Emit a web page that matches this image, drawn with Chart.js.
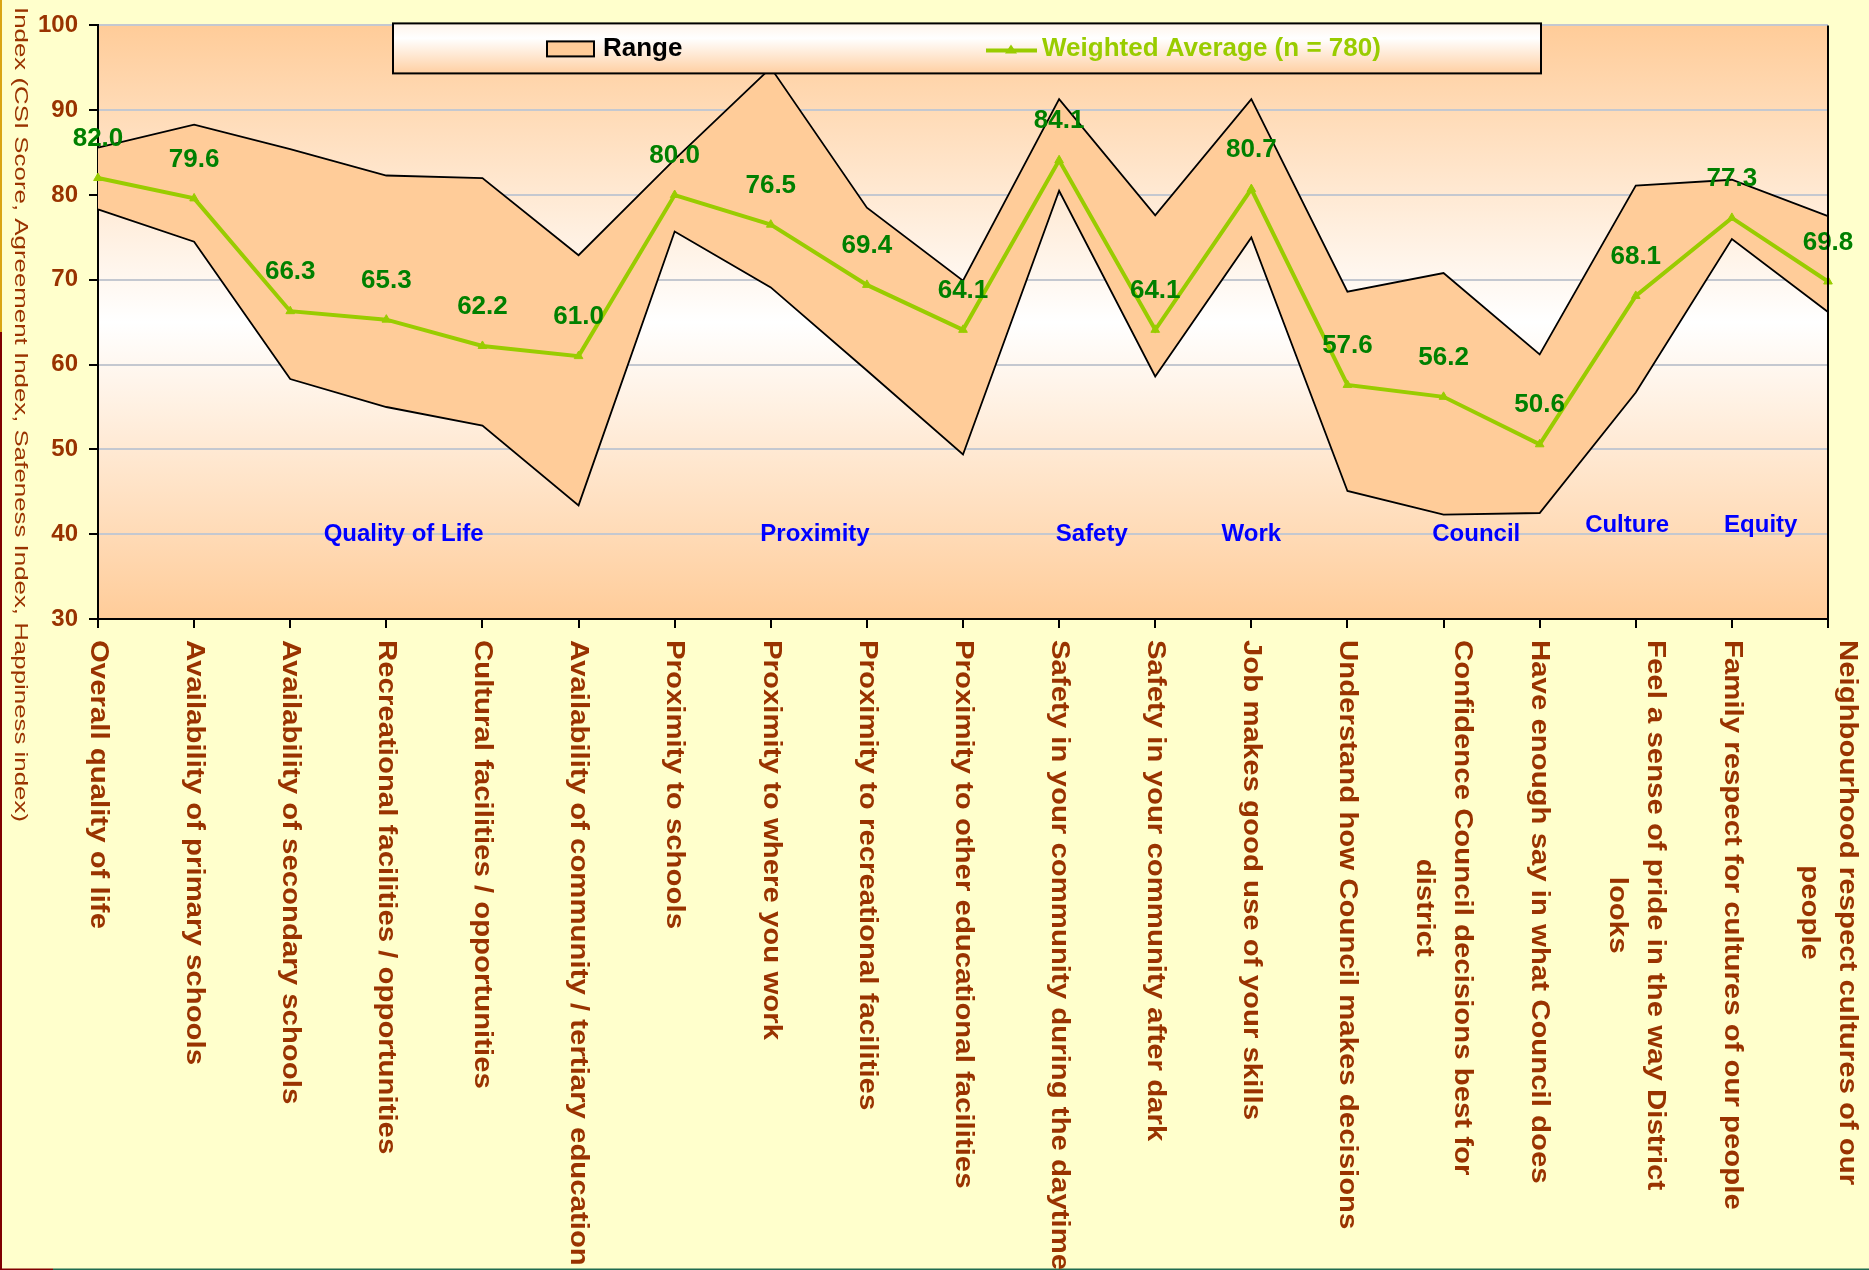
<!DOCTYPE html>
<html>
<head>
<meta charset="utf-8">
<script src="https://cdn.jsdelivr.net/npm/chart.js@4.4.1/dist/chart.umd.min.js"></script>
<style>
html, body { margin: 0; padding: 0; background: #FFFFCC; }
#wrap { width: 1869px; height: 1270px; }
</style>
</head>
<body>
<div id="wrap"><canvas id="index-chart" width="1869" height="1270"></canvas></div>
<script>
const categories = [
    'Overall quality of life',
    'Availability of primary schools',
    'Availability of secondary schools',
    'Recreational facilities / opportunities',
    'Cultural facilities / opportunities',
    'Availability of community / tertiary education',
    'Proximity to schools',
    'Proximity to where you work',
    'Proximity to recreational facilities',
    'Proximity to other educational facilities',
    'Safety in your community during the daytime',
    'Safety in your community after dark',
    'Job makes good use of your skills',
    'Understand how Council makes decisions',
    ['Confidence Council decisions best for', 'district'],
    'Have enough say in what Council does',
    ['Feel a sense of pride in the way District', 'looks'],
    'Family respect for cultures of our people',
    ['Neighbourhood respect cultures of our', 'people']
];
const rangeUpper = [85.6, 88.3, 85.4, 82.3, 82.0, 72.9, 84.2, 95.0, 78.5, 69.9, 91.3, 77.6, 91.3, 68.6, 70.8, 61.2, 81.1, 81.8, 77.5];
const rangeLower = [78.3, 74.5, 58.3, 55.0, 52.8, 43.4, 75.7, 69.1, 59.3, 49.4, 80.5, 58.6, 75.0, 45.1, 42.3, 42.5, 56.7, 74.8, 66.2];
const weightedAverage = [82.0, 79.6, 66.3, 65.3, 62.2, 61.0, 80.0, 76.5, 69.4, 64.1, 84.1, 64.1, 80.7, 57.6, 56.2, 50.6, 68.1, 77.3, 69.8];
const yTickValues = [30, 40, 50, 60, 70, 80, 90, 100];

// group captions placed in data coordinates (category index, index value)
const groupNames = ['Quality of Life', 'Proximity', 'Safety', 'Work', 'Council', 'Culture', 'Equity'];
const groupAtCategory = [3.18, 7.46, 10.34, 12.0, 14.34, 15.91, 17.3];
const groupAtValue = [40, 40, 40, 40, 40, 41, 41];

const yTitle = 'Index (CSI Score, Agreement Index, Safeness Index, Happiness index)';
const FONT = '"Liberation Sans", Arial, sans-serif';
const BROWN = '#993300';
const AVG_GREEN = '#99CC00';

const backgroundPlugin = {
    id: 'background',
    beforeDraw(chart) {
        const ctx = chart.ctx, a = chart.chartArea;
        ctx.save();
        ctx.fillStyle = '#FFFFCC';
        ctx.fillRect(0, 0, chart.width, chart.height);
        const g = ctx.createLinearGradient(0, a.top, 0, a.bottom);
        g.addColorStop(0, '#FFCC99');
        g.addColorStop(0.5, '#FFFFFF');
        g.addColorStop(1, '#FFCC99');
        ctx.fillStyle = g;
        ctx.fillRect(a.left, a.top, a.right - a.left, a.bottom - a.top);
        ctx.restore();
    },
    afterDraw(chart) {
        const ctx = chart.ctx, a = chart.chartArea;
        ctx.save();
        // right edge of the plot
        ctx.strokeStyle = '#000';
        ctx.lineWidth = 2;
        ctx.beginPath();
        ctx.moveTo(a.right, a.top);
        ctx.lineTo(a.right, a.bottom + 9);
        ctx.stroke();
        // frame remnants of the original picture
        ctx.fillStyle = '#D9A514';
        ctx.fillRect(0, 0, 2, 332);
        ctx.fillStyle = '#800000';
        ctx.fillRect(0, 332, 2, chart.height - 332);
        ctx.fillRect(0, chart.height - 1.5, 53, 1.5);
        ctx.fillStyle = '#1F6B4F';
        ctx.fillRect(53, chart.height - 1.5, chart.width - 53, 1.5);
        ctx.restore();
    }
};

const labelPlugin = {
    id: 'labels',
    afterDatasetsDraw(chart) {
        const ctx = chart.ctx, xs = chart.scales.x, ys = chart.scales.y;
        ctx.save();
        ctx.textAlign = 'center';
        ctx.textBaseline = 'middle';
        // value labels above the weighted average
        ctx.font = 'bold 26px ' + FONT;
        ctx.fillStyle = '#008000';
        chart.getDatasetMeta(2).data.forEach((pt, i) => {
            ctx.fillText(weightedAverage[i].toFixed(1), pt.x, pt.y - 39);
        });
        // group captions
        ctx.font = 'bold 24px ' + FONT;
        ctx.fillStyle = '#0000FF';
        groupNames.forEach((name, i) => {
            ctx.fillText(name, xs.getPixelForValue(groupAtCategory[i]), ys.getPixelForValue(groupAtValue[i]));
        });
        ctx.restore();
    },
    afterDraw(chart) {
        const ctx = chart.ctx, xs = chart.scales.x, a = chart.chartArea;
        const stretch = 1.13;
        ctx.save();
        ctx.fillStyle = BROWN;
        ctx.textAlign = 'left';
        ctx.textBaseline = 'middle';
        // category labels, turned clockwise
        ctx.font = 'bold 26px ' + FONT;
        chart.data.labels.forEach((lab, i) => {
            const lines = Array.isArray(lab) ? lab : [lab];
            const widest = Math.max(...lines.map(l => ctx.measureText(l).width));
            const x = xs.getPixelForTick(i);
            lines.forEach((line, j) => {
                const off = ((lines.length - 1) / 2 - j) * 38;
                const w = ctx.measureText(line).width;
                ctx.save();
                ctx.translate(x + off, a.bottom + 21 + (widest - w) / 2 * stretch);
                ctx.rotate(Math.PI / 2);
                ctx.scale(stretch, 1);
                ctx.fillText(line, 0, 0);
                ctx.restore();
            });
        });
        // axis title, also turned clockwise and drawn out along its length
        ctx.font = '19px ' + FONT;
        const tw = ctx.measureText(yTitle).width;
        ctx.translate(20, 7);
        ctx.rotate(Math.PI / 2);
        ctx.scale(815 / tw, 1);
        ctx.fillText(yTitle, 0, 0);
        ctx.restore();
    }
};

const legendPlugin = {
    id: 'boxLegend',
    afterDraw(chart) {
        const ctx = chart.ctx, a = chart.chartArea;
        const w = 1148, h = 50;
        const left = (a.left + a.right) / 2 - w / 2 + 4, top = a.top - 2;
        ctx.save();
        const g = ctx.createLinearGradient(0, top, 0, top + h);
        g.addColorStop(0, '#FFF4EA');
        g.addColorStop(0.3, '#FFFFFF');
        g.addColorStop(1, '#FFCFA2');
        ctx.fillStyle = g;
        ctx.fillRect(left, top, w, h);
        ctx.strokeStyle = '#000';
        ctx.lineWidth = 2;
        ctx.strokeRect(left, top, w, h);

        const mid = top + h / 2;
        const range = chart.data.datasets[0];
        ctx.fillStyle = range.backgroundColor;
        ctx.fillRect(left + 154, mid - 7, 47, 15);
        ctx.lineWidth = 2;
        ctx.strokeRect(left + 154, mid - 7, 47, 15);
        ctx.font = 'bold 26px ' + FONT;
        ctx.textBaseline = 'middle';
        ctx.textAlign = 'left';
        ctx.fillStyle = '#000';
        ctx.fillText(range.label, left + 210, mid);

        const avg = chart.data.datasets[2];
        const lx = left + 593;
        ctx.strokeStyle = AVG_GREEN;
        ctx.lineWidth = 4;
        ctx.beginPath();
        ctx.moveTo(lx, mid + 2);
        ctx.lineTo(lx + 51, mid + 2);
        ctx.stroke();
        ctx.fillStyle = AVG_GREEN;
        ctx.beginPath();
        ctx.moveTo(lx + 25, mid - 4);
        ctx.lineTo(lx + 31, mid + 5);
        ctx.lineTo(lx + 19, mid + 5);
        ctx.closePath();
        ctx.fill();
        ctx.fillText(avg.label, lx + 56, mid);
        ctx.restore();
    }
};

new Chart(document.getElementById('index-chart'), {
    type: 'line',
    data: {
        labels: categories,
        datasets: [{
            label: 'Range',
            data: rangeUpper,
            borderColor: '#000',
            borderWidth: 1.8,
            backgroundColor: '#FFCC99',
            pointRadius: 0,
            fill: '+1',
            order: 2
        }, {
            label: 'Range low',
            data: rangeLower,
            borderColor: '#000',
            borderWidth: 1.8,
            pointRadius: 0,
            fill: false,
            order: 1
        }, {
            label: 'Weighted Average (n = 780)',
            data: weightedAverage,
            borderColor: AVG_GREEN,
            backgroundColor: AVG_GREEN,
            borderWidth: 4,
            pointStyle: 'triangle',
            pointRadius: 5,
            pointBorderWidth: 1,
            fill: false,
            order: 0
        }]
    },
    options: {
        responsive: false,
        animation: false,
        layout: { padding: { top: 22, right: 41, bottom: 0, left: 0 } },
        elements: { line: { tension: 0 } },
        plugins: {
            legend: { display: false },
            tooltip: { enabled: false }
        },
        scales: {
            x: {
                ticks: { display: false },
                grid: { drawOnChartArea: false, drawTicks: true, tickLength: 9, tickColor: '#000', color: '#000', lineWidth: 2 },
                border: { display: true, color: '#000', width: 2 },
                afterFit: s => { s.height = 651; }
            },
            y: {
                min: yTickValues[0],
                max: yTickValues[yTickValues.length - 1],
                ticks: {
                    stepSize: 10,
                    padding: 11,
                    color: BROWN,
                    font: { family: FONT, size: 24, weight: 'bold' }
                },
                grid: { color: '#C4C8D0', lineWidth: 2, tickColor: '#000', tickLength: 9 },
                border: { display: true, color: '#000', width: 2 },
                afterFit: s => { s.width = 98; }
            }
        }
    },
    plugins: [backgroundPlugin, labelPlugin, legendPlugin]
});
</script>
</body>
</html>
